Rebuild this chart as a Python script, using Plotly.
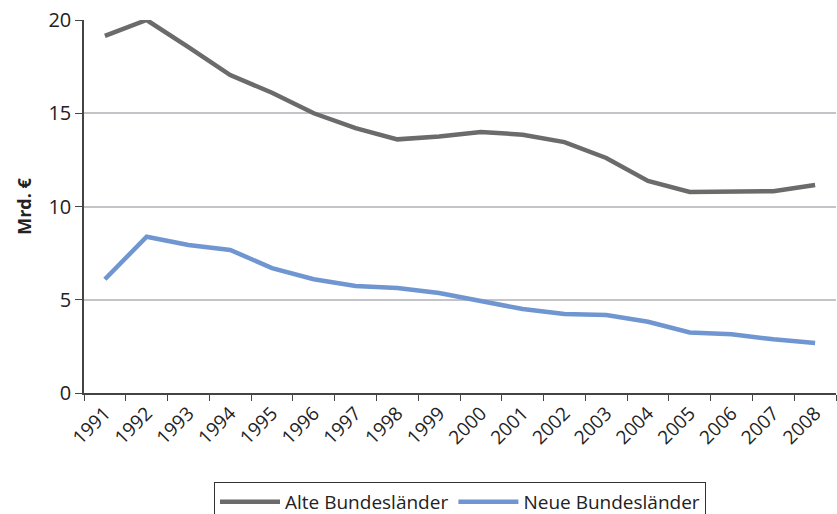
import plotly.graph_objects as go

years = [str(y) for y in range(1991, 2009)]
alte = [19.15, 20.0, 18.55, 17.05, 16.1, 15.0, 14.2, 13.6, 13.75, 14.0, 13.85, 13.45, 12.6, 11.37, 10.78, 10.77, 10.82, 11.15]
neue = [6.1, 8.38, 7.94, 7.67, 6.7, 6.1, 5.74, 5.63, 5.36, 4.93, 4.5, 4.24, 4.18, 3.82, 3.25, 3.15, 2.88, 2.68]
y_ticks = [0, 5, 10, 15, 20]

FONT = "Open Sans"

fig = go.Figure()
fig.add_trace(go.Scatter(x=years, y=alte, mode="lines", name="Alte Bundesländer", cliponaxis=False,
                         line=dict(color="#6b6b6b", width=4.5)))
fig.add_trace(go.Scatter(x=years, y=neue, mode="lines", name="Neue Bundesländer", cliponaxis=False,
                         line=dict(color="#6f96d0", width=4.5)))

fig.update_layout(
    width=837, height=514,
    margin=dict(l=84, r=1, t=20, b=121),
    paper_bgcolor="white", plot_bgcolor="white",
    font=dict(family=FONT, size=18, color="#222"),
    showlegend=True,
    legend=dict(orientation="h", x=0.5, xanchor="center", xref="paper",
                y=1 - 482 / 514, yanchor="top", yref="container",
                bordercolor="#333", borderwidth=1, font=dict(size=19, family=FONT),
                tracegroupgap=0, itemwidth=60),
    xaxis=dict(type="category", tickson="boundaries", ticks="outside", ticklen=6,
               tickcolor="#444", showline=True, linecolor="#444", linewidth=1.5,
               showgrid=False, tickangle=-45, tickfont=dict(size=19),
               range=[-0.5, 17.5], automargin=False),
    yaxis=dict(range=[0, 20], tickvals=y_ticks, ticks="outside", ticklen=7,
               tickcolor="#444", showline=True, linecolor="#444", linewidth=1.5,
               showgrid=True, gridcolor="#c4c4c8", gridwidth=1.5, zeroline=False,
               tickfont=dict(size=20), automargin=False,
               title=dict(text="<b>Mrd. €</b>", font=dict(size=18), standoff=12)),
)

fig.write_html("out.html")
